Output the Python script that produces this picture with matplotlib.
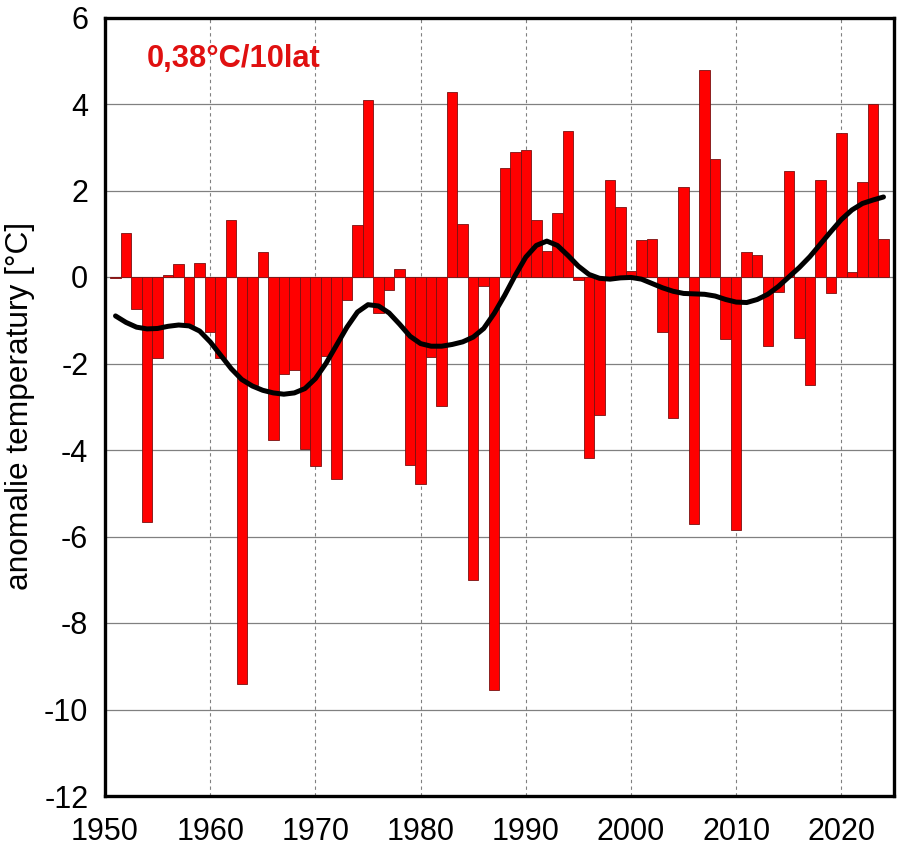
"""Anomalie temperatury 1951-2024: slupki roczne i wygladzona krzywa."""
import matplotlib
matplotlib.use("Agg")
import matplotlib.pyplot as plt

plt.rcParams["font.family"] = ["Liberation Sans", "DejaVu Sans"]

years = list(range(1951, 2025))
anomaly = [-0.03, 1.02, -0.75, -5.67, -1.87, 0.04, 0.30, -1.12, 0.32, -1.28,
           -1.87, 1.32, -9.42, -2.50, 0.58, -3.76, -2.24, -2.14, -3.97, -4.38,
           -1.83, -4.68, -0.54, 1.20, 4.10, -0.84, -0.29, 0.18, -4.34, -4.78,
           -1.85, -2.98, 4.28, 1.22, -7.00, -0.20, -9.55, 2.52, 2.88, 2.93,
           1.31, 0.60, 1.48, 3.38, -0.08, -4.19, -3.20, 2.25, 1.61, 0.13,
           0.85, 0.87, -1.27, -3.25, 2.07, -5.70, 4.78, 2.72, -1.43, -5.85,
           0.58, 0.52, -1.60, -0.35, 2.46, -1.40, -2.50, 2.24, -0.37, 3.33,
           0.12, 2.19, 4.00, 0.87]
smooth = [-0.90, -1.05, -1.16, -1.20, -1.19, -1.14, -1.11, -1.13, -1.25, -1.50,
          -1.81, -2.12, -2.37, -2.52, -2.62, -2.68, -2.71, -2.68, -2.58, -2.35,
          -2.00, -1.58, -1.16, -0.81, -0.64, -0.67, -0.83, -1.09, -1.37, -1.54,
          -1.60, -1.60, -1.56, -1.50, -1.39, -1.19, -0.84, -0.42, 0.04, 0.46,
          0.73, 0.83, 0.73, 0.50, 0.25, 0.06, -0.03, -0.05, -0.02, -0.01,
          -0.05, -0.15, -0.25, -0.33, -0.38, -0.39, -0.40, -0.44, -0.52, -0.58,
          -0.59, -0.52, -0.40, -0.22, 0.00, 0.22, 0.47, 0.76, 1.05, 1.33,
          1.55, 1.70, 1.78, 1.85]
xticks = list(range(1950, 2030, 10))
yticks = list(range(-12, 8, 2))

fig = plt.figure(figsize=(9.0, 8.48), dpi=100)
ax = fig.add_axes([105 / 900, 1 - 796 / 848, 789 / 900, 778.5 / 848])

ax.bar(years, anomaly, width=1.0, color="#FF0000", edgecolor="#7A1010",
       linewidth=0.6, zorder=3)
ax.plot(years, smooth, color="black", lw=3.6, zorder=4,
        solid_capstyle="round", solid_joinstyle="round")

ax.set_xlim(1950, 2025)
ax.set_ylim(-12, 6)
ax.set_xticks(xticks)
ax.set_yticks(yticks)
ax.tick_params(length=0, labelsize=22)
ax.tick_params(axis="y", pad=12)
ax.tick_params(axis="x", pad=15)
ax.set_yticklabels([str(t) for t in yticks])

ax.grid(axis="y", color="#808080", lw=0.9, zorder=1)
ax.grid(axis="x", color="#808080", lw=0.8, ls=(0, (3, 3)), zorder=1)
ax.set_axisbelow(True)
for s in ax.spines.values():
    s.set_linewidth(2.4)

fig.text(20 / 900, 1 - 406 / 848, "anomalie temperatury [°C]", rotation=90,
         ha="center", va="center", fontsize=22.8)
ax.text(1954, 5.05, "0,38°C/10lat", color="#E01010", fontsize=22.2,
        fontweight="bold", ha="left", va="center")

fig.savefig("out.png", dpi=100)
